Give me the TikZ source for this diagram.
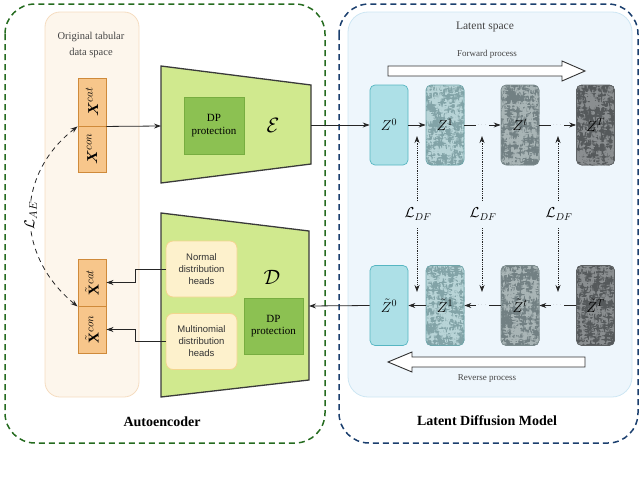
\documentclass[tikz,border=0pt]{standalone}
\usepackage{amsmath,amssymb}
\usepackage{fontspec}
\setmainfont{Liberation Serif}
\setsansfont{Liberation Sans}
\usetikzlibrary{arrows.meta,calc}
\definecolor{greenD}{HTML}{256B1F}
\definecolor{blueD}{HTML}{1B3F6E}
\definecolor{tabbg}{HTML}{FDF6EC}
\definecolor{tabbd}{HTML}{F5DCC0}
\definecolor{xfill}{HTML}{F7C68B}
\definecolor{xbd}{HTML}{CF8A3A}
\definecolor{trapfill}{HTML}{D0E98E}
\definecolor{trapbd}{HTML}{3A3A3A}
\definecolor{dpfill}{HTML}{8CC152}
\definecolor{dpbd}{HTML}{77AD40}
\definecolor{headfill}{HTML}{FDF1CC}
\definecolor{headbd}{HTML}{F3D58E}
\definecolor{latbg}{HTML}{EEF6FC}
\definecolor{latbd}{HTML}{CDE6F3}
\definecolor{zAf}{HTML}{ADE0E7}
\definecolor{zAb}{HTML}{56B6C2}
\definecolor{zBf}{HTML}{9DBFC2}
\definecolor{zBl}{HTML}{B8D4D7}
\definecolor{zBd}{HTML}{82A3A7}
\definecolor{zBb}{HTML}{6FA6AB}
\definecolor{zCf}{HTML}{8E9C9E}
\definecolor{zCl}{HTML}{A9B5B6}
\definecolor{zCd}{HTML}{728083}
\definecolor{zCb}{HTML}{7B8B8D}
\definecolor{zDf}{HTML}{6E7274}
\definecolor{zDl}{HTML}{8A8E90}
\definecolor{zDd}{HTML}{55595B}
\definecolor{zDb}{HTML}{5D6163}
\definecolor{txtgray}{HTML}{444444}
\pgfmathsetseed{7}
\begin{document}
\begin{tikzpicture}[x=1pt,y=-1pt,
  arr/.style={draw=black!85, line width=0.8pt, -{Stealth[length=7pt,width=5pt]}},
  dotarr/.style={draw=black!85, line width=0.8pt, densely dotted, -{Stealth[length=7pt,width=5pt]}},
  outerbox/.style={line width=1.5pt, dash pattern=on 6pt off 4pt, rounded corners=30pt},
  xbox/.style={draw=xbd, fill=xfill, line width=0.9pt, minimum width=28pt, inner sep=0pt},
  dpbox/.style={draw=dpbd, fill=dpfill, line width=0.6pt, minimum width=60pt, minimum height=57pt, align=center, font=\fontsize{11}{12.5}\selectfont, inner sep=1pt},
  headbox/.style={draw=headbd, fill=headfill, line width=0.8pt, rounded corners=7pt, minimum width=71pt, minimum height=56pt, align=center, font=\sffamily\fontsize{9.5}{12}\selectfont, text=black!80},
  zbox/.style={rounded corners=5pt, minimum width=38pt, minimum height=80pt, line width=0.7pt, inner sep=0pt, font=\fontsize{14}{14}\selectfont},
  noisy/.style n args={2}{path picture={
     \foreach \k in {1,...,420}{
       \pgfmathsetmacro\nx{rnd}\pgfmathsetmacro\ny{rnd}
       \fill[#1] ($(path picture bounding box.south west)+(\nx*40,-\ny*82)$) rectangle +(0.9,-0.9);
       \pgfmathsetmacro\mx{rnd}\pgfmathsetmacro\my{rnd}
       \fill[#2] ($(path picture bounding box.south west)+(\mx*40,-\my*82)$) rectangle +(0.9,-0.9);
     }}},
  lbl/.style={font=\fontsize{14}{14}\selectfont}
]
\useasboundingbox (0,0) rectangle (640,479);

% ---------- outer dashed boxes ----------
\draw[outerbox, draw=greenD] (5,4) rectangle (325,443);
\draw[outerbox, draw=blueD] (339,4) rectangle (638,443);

% ---------- original tabular data space ----------
\draw[fill=tabbg, draw=tabbd, line width=0.8pt, rounded corners=15pt] (45,12) rectangle (139,397);
\node[align=center, text=txtgray, font=\fontsize{10.5}{16}\selectfont] (origlbl) at (91,45) {Original tabular\\data space};

\node[xbox, minimum height=48pt] (xcat) at (92,102) {\rotatebox{90}{\fontsize{15}{15}\selectfont$\boldsymbol{X}^{cat}$}};
\node[xbox, minimum height=46pt] (xcon) at (92,149) {\rotatebox{90}{\fontsize{15}{15}\selectfont$\boldsymbol{X}^{con}$}};
\node[xbox, minimum height=47pt] (xtcat) at (92,282.5) {\rotatebox{90}{\fontsize{15}{15}\selectfont$\tilde{\mathbf{X}}^{cat}$}};
\node[xbox, minimum height=47pt] (xtcon) at (92,329.5) {\rotatebox{90}{\fontsize{15}{15}\selectfont$\tilde{\mathbf{X}}^{con}$}};

% ---------- encoder ----------
\draw[fill=trapfill, draw=trapbd, line width=1.3pt] (161,66) -- (311,85) -- (311,164) -- (161,183) -- cycle;
\coordinate (encL) at (161,126);
\coordinate (encR) at (311,125);
\node[dpbox] (dpenc) at (214,125.5) {DP\\protection};
\node[font=\fontsize{20}{20}\selectfont] (enclbl) at (273,125) {$\mathcal{E}$};

% ---------- decoder ----------
\draw[fill=trapfill, draw=trapbd, line width=1.3pt] (161,213) -- (309,231) -- (309,380) -- (161,397) -- cycle;
\coordinate (decR) at (309,306);
\node[headbox] (normal) at (201.5,269) {Normal\\distribution\\heads};
\node[headbox] (multi) at (201.5,341.5) {Multinomial\\distribution\\heads};
\node[dpbox, minimum width=59pt, minimum height=56pt] (dpdec) at (273.5,326) {DP\\protection};
\node[font=\fontsize{20}{20}\selectfont] (declbl) at (272,277) {$\mathcal{D}$};

% ---------- autoencoder arrows ----------
\draw[arr] (xcat.south east) -- (encL);
\draw[arr] (normal.west) -- ++(-30,0) |- (xtcat.east);
\draw[arr] (multi.west) -- ++(-30,0) |- (xtcon.east);
\draw[draw=black!85, line width=0.8pt, dash pattern=on 5pt off 4pt, {Stealth[length=7pt,width=5pt]}-{Stealth[length=7pt,width=5pt]}]
  (xtcat.south west) .. controls (15,255) and (15,175) ..
  node[pos=0.5, fill=white, rotate=90, inner sep=1pt, font=\fontsize{15}{15}\selectfont] (lae) {$\mathcal{L}_{AE}$}
  (xcat.south west);

\node[font=\bfseries\fontsize{14}{14}\selectfont] (aetitle) at (162,422) {Autoencoder};

% ---------- latent space ----------
\draw[fill=latbg, draw=latbd, line width=0.8pt, rounded corners=20pt] (348,12) rectangle (632,397);
\node[text=txtgray, font=\fontsize{11.5}{12}\selectfont] (latlbl) at (485,27) {Latent space};
\node[text=txtgray, font=\fontsize{9}{10}\selectfont] (fwdlbl) at (487,54) {Forward process};
\draw[fill=white, draw=black!80, line width=0.9pt] (388,66) -- (562,66) -- (562,61) -- (585,71) -- (562,81) -- (562,76) -- (388,76) -- cycle;
\node[text=txtgray, font=\fontsize{9}{10}\selectfont] (revlbl) at (487,379) {Reverse process};
\draw[fill=white, draw=black!80, line width=0.9pt] (585,357) -- (412,357) -- (412,352) -- (388,362) -- (412,372) -- (412,367) -- (585,367) -- cycle;

% forward Z boxes
\node[zbox, fill=zAf, draw=zAb] (z0) at (389,125) {$Z^0$};
\node[zbox, fill=zBf, draw=zBb, noisy={zBl}{zBd}] (z1) at (445,125) {$Z^1$};
\node[zbox, fill=zCf, draw=zCb, noisy={zCl}{zCd}] (zt) at (520,125) {$Z^t$};
\node[zbox, fill=zDf, draw=zDb, noisy={zDl}{zDd}] (zT) at (595.5,125) {$Z^T$};
% reverse Z boxes
\node[zbox, fill=zAf, draw=zAb] (w0) at (389,305.5) {$\tilde{Z}^0$};
\node[zbox, fill=zBf, draw=zBb, noisy={zBl}{zBd}] (w1) at (445,305.5) {$\tilde{Z}^1$};
\node[zbox, fill=zCf, draw=zCb, noisy={zCl}{zCd}] (wt) at (520,305.5) {$\tilde{Z}^t$};
\node[zbox, fill=zDf, draw=zDb, noisy={zDl}{zDd}] (wT) at (595.5,305.5) {$\tilde{Z}^T$};

% arrows
\draw[arr] (encR) -- (z0.west);
\draw[arr] (z0) -- (z1);
\draw[arr] (z1) -- node[fill=latbg, inner sep=1pt, text=black!50, font=\tiny] (d1) {$\cdots$} (zt);
\draw[arr] (zt) -- node[fill=latbg, inner sep=1pt, text=black!50, font=\tiny] (d2) {$\cdots$} (zT);
\draw[arr] (w1) -- (w0);
\draw[arr] (wt) -- node[fill=latbg, inner sep=1pt, text=black!50, font=\tiny] (d3) {$\cdots$} (w1);
\draw[arr] (wT) -- node[fill=latbg, inner sep=1pt, text=black!50, font=\tiny] (d4) {$\cdots$} (wt);
\draw[arr] (w0.west) -- (decR);

% L_DF
\foreach \i/\xx in {1/417,2/482,3/558}{
  \node[lbl] (ldf\i) at (\xx+1,214) {$\mathcal{L}_{DF}$};
  \coordinate (up\i) at (\xx,136);
  \coordinate (dn\i) at (\xx,292);
  \draw[dotarr] (\xx,201) -- (up\i);
  \draw[dotarr] (\xx,228) -- (dn\i);
}

\node[font=\bfseries\fontsize{14}{14}\selectfont] (ldmtitle) at (487,421) {Latent Diffusion Model};
\end{tikzpicture}
\end{document}
